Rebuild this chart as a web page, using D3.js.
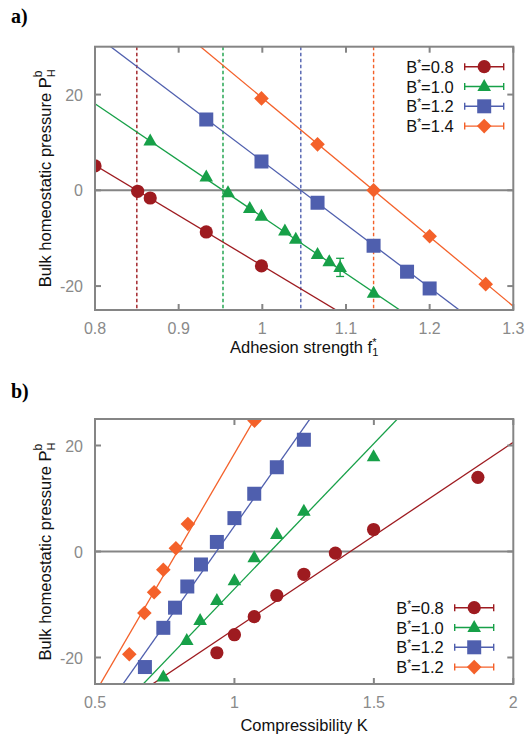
<!DOCTYPE html>
<html>
<head>
<meta charset="utf-8">
<script src="https://cdn.jsdelivr.net/npm/d3@7"></script>
<style>
  body { margin: 0; background: #fff; }
  text { font-family: "Liberation Sans", Arial, Helvetica, sans-serif; }
</style>
</head>
<body>
<div id="chart"></div>
<script>
// series labels and colours
var namesA = ["B*=0.8", "B*=1.0", "B*=1.2", "B*=1.4"],
    namesB = ["B*=0.8", "B*=1.0", "B*=1.2", "B*=1.2"],
    colors = ["#9e1b20", "#17a048", "#4f5fae", "#f4612a"],
    shapes = ["circle", "triangle", "square", "diamond"];

// panel a: adhesion strength vs pressure
var aRed    = [[0.8, 5.1], [0.851, -0.2], [0.866, -1.6], [0.933, -8.7], [0.999, -15.8]];
var aGreen  = [[0.866, 10.3], [0.933, 2.8], [0.959, -0.5], [0.985, -3.8], [0.999, -5.4],
               [1.027, -8.5], [1.040, -10.2], [1.066, -13.4], [1.080, -14.9], [1.093, -16.1], [1.133, -21.5]];
var aGreenErr = [0, 0, 0, 0, 0, 0, 0, 0, 0, 1.9, 0];
var aBlue   = [[0.933, 14.8], [0.999, 6.0], [1.066, -2.6], [1.133, -11.6], [1.173, -17.0], [1.200, -20.5]];
var aOrange = [[0.999, 19.2], [1.066, 9.6], [1.133, 0.0], [1.200, -9.6], [1.267, -19.6]];
var aFitZero  = [0.85, 0.953, 1.046, 1.133];
var aFitSlope = [-105, -118.3, -132, -145];
var aXTicks = [0.8, 0.9, 1.0, 1.1, 1.2, 1.3],
    aYTicks = [-20, 0, 20];

// panel b: compressibility vs pressure
var bRed    = [[0.937, -19.1], [1.000, -15.7], [1.071, -12.3], [1.152, -8.3], [1.249, -4.3],
               [1.362, -0.3], [1.499, 4.15], [1.873, 14.0]];
var bGreen  = [[0.745, -23.7], [0.829, -16.8], [0.877, -13.0], [0.937, -9.25], [1.000, -5.5],
               [1.071, -1.2], [1.152, 3.2], [1.249, 7.6], [1.499, 17.9]];
var bBlue   = [[0.679, -21.8], [0.745, -14.4], [0.787, -10.6], [0.831, -6.6], [0.880, -2.45],
               [0.937, 1.8], [1.000, 6.3], [1.071, 10.9], [1.152, 15.9], [1.249, 21.1]];
var bOrange = [[0.623, -19.4], [0.677, -11.6], [0.712, -7.7], [0.745, -3.45], [0.790, 0.6],
               [0.833, 5.2], [1.072, 24.7]];
var bFitZero  = [1.4156, 1.1286, 0.9355, 0.7957];
var bFitSlope = [35.25, 54.85, 74.6, 90.4];
var bXTicks = [0.5, 1, 1.5, 2],
    bYTicks = [-20, 0, 20];

var svg = d3.select("#chart").append("svg")
    .attr("width", 532)
    .attr("height", 737);

var frameColor = "#858585",
    tickColor = "#8a8a8a";

function marker(shape) {
    if (shape == "circle") return d3.symbol(d3.symbolCircle, Math.PI * 6.6 * 6.6)();
    if (shape == "square") return "M-7,-7H7V7H-7Z";
    if (shape == "triangle") return "M0,-7.5L6.8,4.5H-6.8Z";
    return "M0,-7.3L7.3,0L0,7.3L-7.3,0Z";
}

function drawPanel(p) {
    var g = svg.append("g").attr("transform", "translate(" + p.left + "," + p.top + ")");
    var x = d3.scaleLinear().domain(p.xDomain).range([0, p.width]);
    var y = d3.scaleLinear().domain(p.yDomain).range([p.height, 0]);

    var clipId = "clip" + p.id;
    g.append("clipPath").attr("id", clipId)
        .append("rect").attr("width", p.width).attr("height", p.height);

    var plot = g.append("g").attr("clip-path", "url(#" + clipId + ")");

    // zero axis
    plot.append("line")
        .attr("x1", 0).attr("x2", p.width)
        .attr("y1", y(0)).attr("y2", y(0))
        .attr("stroke", frameColor).attr("stroke-width", 2);

    // dashed zero-crossing lines
    if (p.dashed) {
        p.fitZero.forEach(function(z, i) {
            plot.append("line")
                .attr("x1", x(z)).attr("x2", x(z))
                .attr("y1", 0).attr("y2", p.height)
                .attr("stroke", colors[i]).attr("stroke-width", 1.4)
                .attr("stroke-dasharray", "3.5,2.5");
        });
    }

    // fitted lines
    p.fitZero.forEach(function(z, i) {
        var f = function(xv) { return p.fitSlope[i] * (xv - z); };
        var x0 = p.xDomain[0] - 0.1, x1 = p.xDomain[1] + 0.1;
        plot.append("line")
            .attr("x1", x(x0)).attr("y1", y(f(x0)))
            .attr("x2", x(x1)).attr("y2", y(f(x1)))
            .attr("stroke", colors[i]).attr("stroke-width", 1.3);
    });

    // error bars
    p.series.forEach(function(s, i) {
        var err = p.errors[i];
        if (!err) return;
        s.forEach(function(d, j) {
            if (!err[j]) return;
            var xe = x(d[0]);
            var eg = plot.append("g").attr("stroke", colors[i]).attr("stroke-width", 1.3);
            eg.append("line").attr("x1", xe).attr("x2", xe)
                .attr("y1", y(d[1] - err[j])).attr("y2", y(d[1] + err[j]));
            [d[1] - err[j], d[1] + err[j]].forEach(function(v) {
                eg.append("line").attr("x1", xe - 4).attr("x2", xe + 4)
                    .attr("y1", y(v)).attr("y2", y(v));
            });
        });
    });

    // points
    p.series.forEach(function(s, i) {
        plot.selectAll(".pt" + i)
            .data(s)
          .enter().append("path")
            .attr("d", marker(shapes[i]))
            .attr("fill", colors[i])
            .attr("transform", function(d) { return "translate(" + x(d[0]) + "," + y(d[1]) + ")"; });
    });

    // frame
    g.append("rect")
        .attr("width", p.width).attr("height", p.height)
        .attr("fill", "none").attr("stroke", frameColor).attr("stroke-width", 2);

    // ticks (inward, mirrored)
    var tl = 6;
    p.xTicks.forEach(function(t) {
        var tx = x(t);
        g.append("line").attr("x1", tx).attr("x2", tx).attr("y1", p.height).attr("y2", p.height - tl)
            .attr("stroke", frameColor).attr("stroke-width", 2);
        g.append("line").attr("x1", tx).attr("x2", tx).attr("y1", 0).attr("y2", tl)
            .attr("stroke", frameColor).attr("stroke-width", 2);
        g.append("text").attr("x", tx).attr("y", p.height + 24)
            .attr("text-anchor", "middle").attr("font-size", 16).attr("fill", tickColor)
            .text(t == 1 || t == 2 ? String(t) : d3.format(".1f")(t));
    });
    p.yTicks.forEach(function(t) {
        var ty = y(t);
        g.append("line").attr("x1", 0).attr("x2", tl).attr("y1", ty).attr("y2", ty)
            .attr("stroke", frameColor).attr("stroke-width", 2);
        g.append("line").attr("x1", p.width).attr("x2", p.width - tl).attr("y1", ty).attr("y2", ty)
            .attr("stroke", frameColor).attr("stroke-width", 2);
        g.append("text").attr("x", -12).attr("y", ty + 6)
            .attr("text-anchor", "end").attr("font-size", 16).attr("fill", tickColor)
            .text(t < 0 ? "-" + Math.abs(t) : t);
    });

    // y axis title
    var yt = g.append("text")
        .attr("transform", "translate(-44," + (p.height / 2) + ") rotate(-90)")
        .attr("text-anchor", "middle").attr("font-size", 16.5).attr("fill", "#111");
    yt.append("tspan").text("Bulk homeostatic pressure P");
    yt.append("tspan").attr("font-size", 11).attr("dy", 4).text("H");
    yt.append("tspan").attr("font-size", 12).attr("dx", -8).attr("dy", -13).text("b");

    // x axis title
    var xt = g.append("text")
        .attr("x", p.width / 2).attr("y", p.height + p.xTitleDy)
        .attr("text-anchor", "middle").attr("font-size", 16.5).attr("fill", "#111");
    xt.append("tspan").text(p.xTitle);
    if (p.xSub) {
        xt.append("tspan").attr("font-size", 11).attr("dy", 3).text("1");
        xt.append("tspan").attr("font-size", 11).attr("dx", -6).attr("dy", -10).text("*");
    }

    // legend
    var lg = g.append("g").attr("transform", "translate(" + p.legendX + "," + p.legendY + ")");
    p.names.forEach(function(n, i) {
        var row = lg.append("g").attr("transform", "translate(0," + (i * 19.8) + ")");
        var lt = row.append("text").attr("x", 0).attr("y", 6)
            .attr("text-anchor", "end").attr("font-size", 16.5).attr("fill", "#111");
        lt.append("tspan").text("B");
        lt.append("tspan").attr("font-size", 10).attr("dy", -6).text("*");
        lt.append("tspan").attr("dy", 6).text(n.replace("B*", ""));
        var ls = row.append("g").attr("stroke", colors[i]).attr("stroke-width", 1.4);
        ls.append("line").attr("x1", 11).attr("x2", 50).attr("y1", 0).attr("y2", 0);
        ls.append("line").attr("x1", 11).attr("x2", 11).attr("y1", -3.5).attr("y2", 3.5);
        ls.append("line").attr("x1", 50).attr("x2", 50).attr("y1", -3.5).attr("y2", 3.5);
        row.append("path").attr("d", marker(shapes[i])).attr("fill", colors[i])
            .attr("transform", "translate(30.5,0)");
    });
}

drawPanel({
    id: "a", left: 95, top: 46.7, width: 418.3, height: 263.3,
    xDomain: [0.8, 1.3], yDomain: [-25, 30],
    xTicks: aXTicks, yTicks: aYTicks,
    series: [aRed, aGreen, aBlue, aOrange],
    errors: [null, aGreenErr, null, null],
    fitZero: aFitZero, fitSlope: aFitSlope, dashed: true,
    names: namesA, legendX: 358.7, legendY: 20,
    xTitle: "Adhesion strength f", xSub: true, xTitleDy: 43
});

drawPanel({
    id: "b", left: 95, top: 419, width: 418.3, height: 265,
    xDomain: [0.5, 2], yDomain: [-25, 25],
    xTicks: bXTicks, yTicks: bYTicks,
    series: [bRed, bGreen, bBlue, bOrange],
    errors: [null, null, null, null],
    fitZero: bFitZero, fitSlope: bFitSlope, dashed: false,
    names: namesB, legendX: 348.7, legendY: 188.7,
    xTitle: "Compressibility K", xSub: false, xTitleDy: 47
});

// panel letters
svg.append("text").attr("x", 11).attr("y", 23)
    .style("font-family", "'Liberation Serif', 'DejaVu Serif', serif")
    .attr("font-weight", "bold").attr("font-size", 20).text("a)");
svg.append("text").attr("x", 11).attr("y", 398)
    .style("font-family", "'Liberation Serif', 'DejaVu Serif', serif")
    .attr("font-weight", "bold").attr("font-size", 20).text("b)");
</script>
</body>
</html>
